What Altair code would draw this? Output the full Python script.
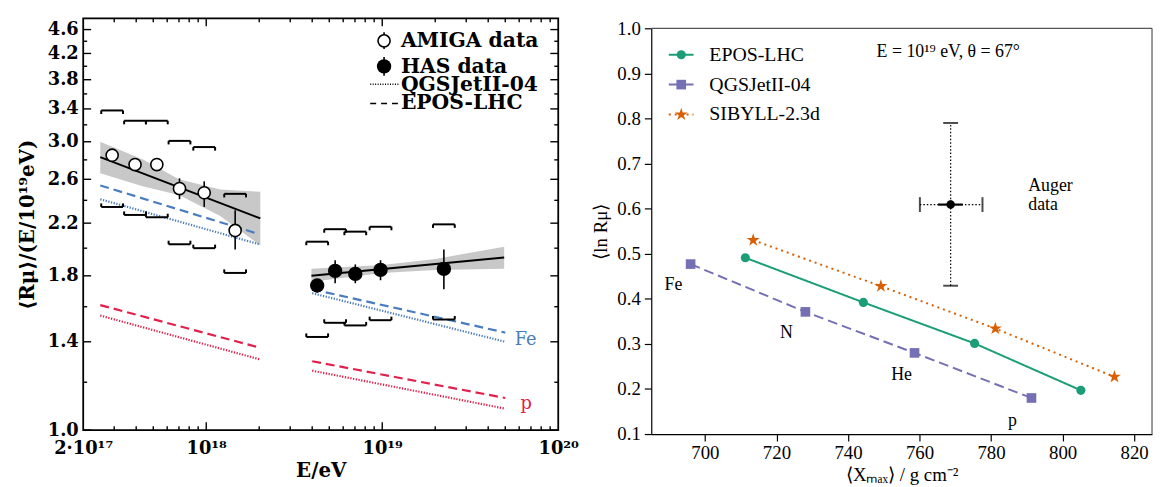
import altair as alt
import pandas as pd

# ================= Left panel data =================
amiga_E = [2.92e17, 3.94e17, 5.24e17, 7.05e17, 9.74e17, 1.46e18]
amiga_R = [2.85, 2.75, 2.75, 2.51, 2.47, 2.14]
amiga_stat_lo = [2.80, 2.70, 2.69, 2.41, 2.34, 1.99]
amiga_stat_hi = [2.90, 2.80, 2.81, 2.61, 2.58, 2.31]
amiga_sys_lo = [2.34, 2.27, 2.25, 2.03, 2.00, 1.82]
amiga_sys_hi = [3.38, 3.25, 3.25, 3.01, 2.94, 2.46]

has_E = [4.27e18, 5.40e18, 7.03e18, 9.78e18, 2.24e19]
has_R = [1.735, 1.834, 1.813, 1.841, 1.848]
has_stat_lo = [1.69, 1.75, 1.75, 1.77, 1.71]
has_stat_hi = [1.77, 1.91, 1.88, 1.91, 1.99]
has_sys_lo = [1.426, 1.505, 1.49, 1.52, 1.524]
has_sys_hi = [2.05, 2.15, 2.13, 2.17, 2.19]

amiga_fit_E = [2.5e17, 2.03e18]
amiga_fit_R = [2.83, 2.24]
amiga_band_E = [2.5e17, 4.4e17, 7e17, 1.2e18, 2.03e18]
amiga_band_hi = [3.00, 2.80, 2.60, 2.50, 2.48]
amiga_band_lo = [2.66, 2.53, 2.45, 2.26, 2.02]

has_fit_E = [3.96e18, 4.93e19]
has_fit_R = [1.80, 1.93]
has_band_E = [3.96e18, 1e19, 2e19, 4.93e19]
has_band_hi = [1.85, 1.875, 1.92, 2.01]
has_band_lo = [1.76, 1.82, 1.84, 1.85]

model_E_low = [2.5e17, 2e18]
model_E_high = [4e18, 5e19]
epos_fe = [2.54, 2.11, 1.71, 1.45]
qgs_fe = [2.41, 2.03, 1.685, 1.40]
epos_p = [1.61, 1.37, 1.30, 1.13]
qgs_p = [1.547, 1.31, 1.254, 1.085]

prim_labels = ["Fe", "p"]
prim_label_E = [5.66e19, 6.1e19]
prim_label_R = [1.41, 1.105]

y_major = [1.0, 1.4, 1.8, 2.2, 2.6, 3.0, 3.4, 3.8, 4.2, 4.6]
y_minor = [1.2, 1.6, 2.0, 2.4, 2.8, 3.2, 3.6, 4.0, 4.4]
x_major = [1e18, 1e19]
x_minor = [k * 10.0 ** e for e in (17, 18, 19) for k in range(2, 10) if k * 10.0 ** e > 2.5e17]
x_label_at = [2e17, 1e18, 1e19, 1e20]

# ================= Right panel data =================
models2 = ["EPOS-LHC", "QGSJetII-04", "SIBYLL-2.3d"]
elements = ["Fe", "N", "He", "p"]
xmax_epos = [711.3, 744.3, 775.4, 805.1]
lnr_epos = [0.491, 0.392, 0.301, 0.197]
xmax_qgs = [696.0, 728.1, 758.6, 791.3]
lnr_qgs = [0.477, 0.371, 0.280, 0.180]
xmax_sib = [713.5, 749.2, 781.2, 814.5]
lnr_sib = [0.530, 0.428, 0.334, 0.227]

elem_X = [691.2, 722.8, 755.0, 786.0]
elem_v = [0.430, 0.324, 0.231, 0.128]

auger_X, auger_v = 768.7, 0.609
auger_sys_v = [0.429, 0.790]
auger_sys_X = [760.1, 777.6]
auger_stat_X = [765.2, 772.1]
auger_stat_v = [0.600, 0.618]

annot_text = ["E = 10¹⁹ eV, θ = 67°", "Auger", "data"]
annot_X = [748.0, 790.4, 790.4]
annot_v = [0.947, 0.651, 0.609]

# ================= styling =================
W1, H1 = 480, 416
W2, H2 = 506, 420
TOP2 = 10  # right panel frame starts a little lower than the left one
SB = "DejaVu Serif"
SR = "Liberation Serif"
BLUE = "#4a7dbd"
RED = "#e2204b"
GREEN = "#1b9e77"
PURPLE = "#7570b3"
ORANGE = "#d95f02"
STAR = ("M0,-1L0.2245,-0.309L0.951,-0.309L0.363,0.118L0.588,0.809L0,0.382"
        "L-0.588,0.809L-0.363,0.118L-0.951,-0.309L-0.2245,-0.309Z")

xs1 = alt.Scale(type="log", domain=[2e17, 1e20], nice=False)
ys1 = alt.Scale(type="log", domain=[1.0, 4.8], nice=False)

x_label_axis = alt.Axis(
    orient="bottom", values=x_label_at,
    labelExpr="datum.value < 5e17 ? '2·10¹⁷' : (datum.value < 5e18 ? '10¹⁸' : (datum.value < 5e19 ? '10¹⁹' : '10²⁰'))",
    ticks=False, domain=False, grid=False, labelFlush=False, labelOverlap=False,
    labelFont=SB, labelFontSize=18, labelFontWeight="bold", labelColor="black",
    labelPadding=10, title="E/eV", titleFont=SB, titleFontSize=20,
    titleFontWeight="bold", titleColor="black", titlePadding=3)
y_label_axis = alt.Axis(
    orient="left", values=y_major, format=".1f", ticks=False, domain=False,
    grid=False, labelOverlap=False, labelFont=SB, labelFontSize=18,
    labelFontWeight="bold", labelColor="black", labelPadding=5,
    title="⟨Rμ⟩/(E/10¹⁹eV)", titleFont=SB, titleFontSize=20,
    titleFontWeight="bold", titleColor="black", titlePadding=10)


def X1(field="E", axis=None):
    return alt.X(f"{field}:Q", scale=xs1, axis=axis)


def Y1(field="R", axis=None):
    return alt.Y(f"{field}:Q", scale=ys1, axis=axis)


# ---- data frames ----
amiga = pd.DataFrame({"E": amiga_E, "R": amiga_R, "lo": amiga_stat_lo, "hi": amiga_stat_hi})
has = pd.DataFrame({"E": has_E, "R": has_R, "lo": has_stat_lo, "hi": has_stat_hi})
sys_df = pd.DataFrame({
    "E": amiga_E + amiga_E + has_E + has_E,
    "ys": amiga_sys_hi + amiga_sys_lo + has_sys_hi + has_sys_lo,
    "side": [1] * 6 + [-1] * 6 + [1] * 5 + [-1] * 5,
})
amiga_band = pd.DataFrame({"E": amiga_band_E, "hi": amiga_band_hi, "lo": amiga_band_lo})
has_band = pd.DataFrame({"E": has_band_E, "hi": has_band_hi, "lo": has_band_lo})
fit_df = pd.DataFrame({"E": amiga_fit_E + has_fit_E, "R": amiga_fit_R + has_fit_R,
                       "grp": ["amiga"] * 2 + ["has"] * 2})
rows = []
for name, prim, vals in [("EPOS-LHC", "Fe", epos_fe), ("QGSJetII-04", "Fe", qgs_fe),
                         ("EPOS-LHC", "p", epos_p), ("QGSJetII-04", "p", qgs_p)]:
    for seg, Es, vs in [("low", model_E_low, vals[:2]), ("high", model_E_high, vals[2:])]:
        for e, v in zip(Es, vs):
            rows.append({"model": name, "prim": prim, "grp": f"{name}-{prim}-{seg}", "E": e, "R": v})
model_df = pd.DataFrame(rows)
plab_df = pd.DataFrame({"t": prim_labels, "E": prim_label_E, "R": prim_label_R, "col": [BLUE, RED]})

band_a = alt.Chart(amiga_band).mark_area(color="#c8c8c8", opacity=1).encode(
    x=X1("E", x_label_axis), y=Y1("hi", y_label_axis), y2="lo:Q")
band_h = alt.Chart(has_band).mark_area(color="#c8c8c8", opacity=1).encode(
    x=X1("E"), y=Y1("hi"), y2="lo:Q")
models_l = alt.Chart(model_df).mark_line(strokeWidth=2.2).encode(
    x=X1("E"), y=Y1("R"),
    color=alt.Color("prim:N", scale=alt.Scale(domain=["Fe", "p"], range=[BLUE, RED]), legend=None),
    strokeDash=alt.StrokeDash("model:N", scale=alt.Scale(domain=["QGSJetII-04", "EPOS-LHC"],
                                                         range=[[1.3, 1.5], [9, 5]]), legend=None),
    detail="grp:N")
fits = alt.Chart(fit_df).mark_line(color="black", strokeWidth=2).encode(
    x=X1("E"), y=Y1("R"), detail="grp:N")

sys_base = alt.Chart(sys_df).transform_calculate(
    El="datum.E * 0.867", Er="datum.E * 1.153", yt="datum.ys * exp(-datum.side * 0.0135)")
sys_h = sys_base.mark_rule(color="black", strokeWidth=2).encode(x=X1("El"), x2="Er:Q", y=Y1("ys"))
sys_l = sys_base.mark_rule(color="black", strokeWidth=2).encode(x=X1("El"), y=Y1("ys"), y2="yt:Q")
sys_r = sys_base.mark_rule(color="black", strokeWidth=2).encode(x=X1("Er"), y=Y1("ys"), y2="yt:Q")

err_a = alt.Chart(amiga).mark_rule(color="black", strokeWidth=1.6).encode(x=X1("E"), y=Y1("lo"), y2="hi:Q")
err_h = alt.Chart(has).mark_rule(color="black", strokeWidth=1.6).encode(x=X1("E"), y=Y1("lo"), y2="hi:Q")
pts_a = alt.Chart(amiga).mark_point(shape="circle", filled=True, fill="white", stroke="black",
                                    strokeWidth=1.6, size=150, opacity=1).encode(x=X1("E"), y=Y1("R"))
pts_h = alt.Chart(has).mark_point(shape="circle", filled=True, color="black", size=210,
                                  opacity=1).encode(x=X1("E"), y=Y1("R"))
plab = alt.Chart(plab_df).mark_text(align="left", baseline="middle", font=SB, fontSize=18).encode(
    x=X1("E"), y=Y1("R"), text="t:N", color=alt.Color("col:N", scale=None))

# inward ticks on all four edges (drawn through the shared scales)
ytk_major = alt.Chart(pd.DataFrame({"v": y_major}))
ytk_minor = alt.Chart(pd.DataFrame({"v": y_minor}))
xtk_major = alt.Chart(pd.DataFrame({"v": x_major}))
xtk_minor = alt.Chart(pd.DataFrame({"v": x_minor}))
ticks = []
for src, ln in [(ytk_major, 8), (ytk_minor, 4)]:
    ticks.append(src.mark_rule(color="black", strokeWidth=1.4).encode(
        y=Y1("v"), x=alt.value(0), x2=alt.value(ln)))
    ticks.append(src.mark_rule(color="black", strokeWidth=1.4).encode(
        y=Y1("v"), x=alt.value(W1), x2=alt.value(W1 - ln)))
for src, ln in [(xtk_major, 8), (xtk_minor, 4)]:
    ticks.append(src.mark_rule(color="black", strokeWidth=1.4).encode(
        x=X1("v"), y=alt.value(H1), y2=alt.value(H1 - ln)))
    ticks.append(src.mark_rule(color="black", strokeWidth=1.4).encode(
        x=X1("v"), y=alt.value(0), y2=alt.value(ln)))


# legend (left)
def one(t):
    return alt.Data(values=[{"t": t}])


lg = []
lg.append(alt.Chart(one("a")).mark_rule(color="black", strokeWidth=1.6).encode(
    x=alt.value(304), y=alt.value(14), y2=alt.value(31)))
lg.append(alt.Chart(one("a")).mark_point(shape="circle", filled=True, fill="white", stroke="black",
                                         strokeWidth=1.6, size=150, opacity=1).encode(
    x=alt.value(304), y=alt.value(22.7)))
lg.append(alt.Chart(one("h")).mark_rule(color="black", strokeWidth=1.6).encode(
    x=alt.value(304), y=alt.value(39), y2=alt.value(58)))
lg.append(alt.Chart(one("h")).mark_point(shape="circle", filled=True, color="black", size=210,
                                         opacity=1).encode(x=alt.value(304), y=alt.value(48.5)))
lg.append(alt.Chart(one("q")).mark_rule(color="black", strokeWidth=1.5, strokeDash=[1, 1.5]).encode(
    x=alt.value(290), x2=alt.value(319), y=alt.value(66.5)))
lg.append(alt.Chart(one("e")).mark_rule(color="black", strokeWidth=1.6, strokeDash=[6, 5]).encode(
    x=alt.value(290), x2=alt.value(320), y=alt.value(86)))
for txt, yy in [("AMIGA data", 22.7), ("HAS data", 49.3), ("QGSJetII-04", 67), ("EPOS-LHC", 86)]:
    lg.append(alt.Chart(one(txt)).mark_text(align="left", baseline="middle", font=SB, fontSize=20.5,
                                            fontWeight="bold", color="black").encode(
        x=alt.value(321), y=alt.value(yy), text="t:N"))

left = alt.layer(band_a, band_h, models_l, fits, sys_h, sys_l, sys_r, err_a, err_h, pts_a, pts_h,
                 plab, *ticks, *lg).properties(
    width=W1, height=H1, view=alt.ViewBackground(stroke="black", strokeWidth=1.8)
).resolve_axis(x="independent", y="independent")

# ================= Right panel =================
xs2 = alt.Scale(domain=[685, 825], nice=False, zero=False)
ys2 = alt.Scale(domain=[0.1, 1.0], nice=False, zero=False, range=[H2, TOP2])
x_axis2 = alt.Axis(values=list(range(700, 821, 20)), format="d", tickSize=7, tickWidth=1.2,
                   tickColor="black", domainColor="black", domainWidth=1.2, grid=False,
                   labelFont=SR, labelFontSize=19, labelColor="black", labelPadding=3,
                   title="⟨Xₘₐₓ⟩ / g cm⁻²", titleFont=SR, titleFontSize=19,
                   titleFontWeight="normal", titleColor="black", titlePadding=3)
y_axis2 = alt.Axis(values=[round(0.1 * i, 1) for i in range(1, 11)], format=".1f", tickSize=7,
                   tickWidth=1.2, tickColor="black", domainColor="black", domainWidth=1.2,
                   grid=False, labelFont=SR, labelFontSize=19, labelColor="black", labelPadding=4,
                   title="⟨ln Rμ⟩", titleFont=SR, titleFontSize=19, titleFontWeight="normal",
                   titleColor="black", titlePadding=6)

comp = pd.DataFrame({
    "model": [models2[0]] * 4 + [models2[1]] * 4 + [models2[2]] * 4,
    "X": xmax_epos + xmax_qgs + xmax_sib,
    "v": lnr_epos + lnr_qgs + lnr_sib,
})
SIZE_EXPR = "datum.model == 'SIBYLL-2.3d' ? 190 : (datum.model == 'QGSJetII-04' ? 95 : 85)"
col2 = alt.Color("model:N", scale=alt.Scale(domain=models2, range=[GREEN, PURPLE, ORANGE]), legend=None)
dash2 = alt.StrokeDash("model:N", scale=alt.Scale(domain=models2, range=[[1, 0], [10, 5], [2, 4]]), legend=None)
shape2 = alt.Shape("model:N", scale=alt.Scale(domain=models2, range=["circle", "square", STAR]), legend=None)
size2 = alt.Size("sz:Q", scale=None, legend=None)

lines2 = alt.Chart(comp).mark_line(strokeWidth=2).encode(
    x=alt.X("X:Q", scale=xs2, axis=x_axis2), y=alt.Y("v:Q", scale=ys2, axis=y_axis2),
    color=col2, strokeDash=dash2, detail="model:N")
pts2 = alt.Chart(comp).transform_calculate(sz=SIZE_EXPR).mark_point(filled=True, opacity=1).encode(
    x=alt.X("X:Q", scale=xs2), y=alt.Y("v:Q", scale=ys2), color=col2, shape=shape2, size=size2)

elem_df = pd.DataFrame({"t": elements, "X": elem_X, "v": elem_v})
elem_txt = alt.Chart(elem_df).mark_text(font=SR, fontSize=18, color="black", align="center",
                                        baseline="middle").encode(
    x=alt.X("X:Q", scale=xs2), y=alt.Y("v:Q", scale=ys2), text="t:N")
ann_df = pd.DataFrame({"t": annot_text, "X": annot_X, "v": annot_v})
ann_txt = alt.Chart(ann_df).mark_text(font=SR, fontSize=18, color="black", align="left",
                                      baseline="middle").encode(
    x=alt.X("X:Q", scale=xs2), y=alt.Y("v:Q", scale=ys2), text="t:N")

aug = pd.DataFrame({"X": [auger_X], "v": [auger_v],
                    "vlo": [auger_sys_v[0]], "vhi": [auger_sys_v[1]],
                    "xlo": [auger_sys_X[0]], "xhi": [auger_sys_X[1]],
                    "sxlo": [auger_stat_X[0]], "sxhi": [auger_stat_X[1]],
                    "svlo": [auger_stat_v[0]], "svhi": [auger_stat_v[1]]})
ab = alt.Chart(aug)
aug_layers = [
    ab.mark_rule(color="black", strokeWidth=1.2, strokeDash=[1.5, 2]).encode(
        x=alt.X("X:Q", scale=xs2), y=alt.Y("vlo:Q", scale=ys2), y2="vhi:Q"),
    ab.mark_rule(color="black", strokeWidth=1.2, strokeDash=[1.5, 2]).encode(
        x=alt.X("xlo:Q", scale=xs2), x2="xhi:Q", y=alt.Y("v:Q", scale=ys2)),
    ab.mark_rule(color="black", strokeWidth=2.2).encode(
        x=alt.X("sxlo:Q", scale=xs2), x2="sxhi:Q", y=alt.Y("v:Q", scale=ys2)),
    ab.mark_rule(color="black", strokeWidth=2.2).encode(
        x=alt.X("X:Q", scale=xs2), y=alt.Y("svlo:Q", scale=ys2), y2="svhi:Q"),
    ab.mark_tick(orient="horizontal", size=15, thickness=2, color="black").encode(
        x=alt.X("X:Q", scale=xs2), y=alt.Y("vlo:Q", scale=ys2)),
    ab.mark_tick(orient="horizontal", size=15, thickness=2, color="black").encode(
        x=alt.X("X:Q", scale=xs2), y=alt.Y("vhi:Q", scale=ys2)),
    ab.mark_tick(orient="vertical", size=15, thickness=2, color="black").encode(
        x=alt.X("xlo:Q", scale=xs2), y=alt.Y("v:Q", scale=ys2)),
    ab.mark_tick(orient="vertical", size=15, thickness=2, color="black").encode(
        x=alt.X("xhi:Q", scale=xs2), y=alt.Y("v:Q", scale=ys2)),
    ab.mark_circle(color="black", size=75, opacity=1).encode(
        x=alt.X("X:Q", scale=xs2), y=alt.Y("v:Q", scale=ys2)),
]

# frame: top and right borders of the right panel
frame = alt.Chart(alt.Data(values=[{"f": 1}]))
frame_top = frame.mark_rule(color="#555555", strokeWidth=1.2).encode(
    x=alt.value(0), x2=alt.value(W2), y=alt.value(TOP2))
frame_right = frame.mark_rule(color="#555555", strokeWidth=1.2).encode(
    x=alt.value(W2), y=alt.value(TOP2), y2=alt.value(H2))

leg2 = alt.Chart(pd.DataFrame({"model": models2})).transform_window(
    idx="row_number()").transform_calculate(ly=f"{TOP2} + 26.7 + 30.2 * (datum.idx - 1)",
                                            sz=SIZE_EXPR)
leg2_line = leg2.mark_rule(strokeWidth=2).encode(
    x=alt.value(17.7), x2=alt.value(42.7), y=alt.Y("ly:Q", scale=None, axis=None),
    color=col2, strokeDash=dash2)
leg2_pt = leg2.mark_point(filled=True, opacity=1).encode(
    x=alt.value(30.3), y=alt.Y("ly:Q", scale=None, axis=None), color=col2, shape=shape2, size=size2)
leg2_txt = leg2.mark_text(align="left", baseline="middle", font=SR, fontSize=20, color="black").encode(
    x=alt.value(58.7), y=alt.Y("ly:Q", scale=None, axis=None), text="model:N")

right = alt.layer(frame_top, frame_right, lines2, pts2, elem_txt, ann_txt, *aug_layers,
                  leg2_line, leg2_pt, leg2_txt).properties(
    width=W2, height=H2, view=alt.ViewBackground(stroke="transparent"))

chart = alt.concat(left, right, columns=2, spacing=11, align="none").resolve_scale(
    color="independent", strokeDash="independent", shape="independent", size="independent"
).properties(padding={"left": 8, "top": 6, "right": 0, "bottom": 0})

chart.save("out.html", embed_options={"renderer": "svg", "actions": False})
